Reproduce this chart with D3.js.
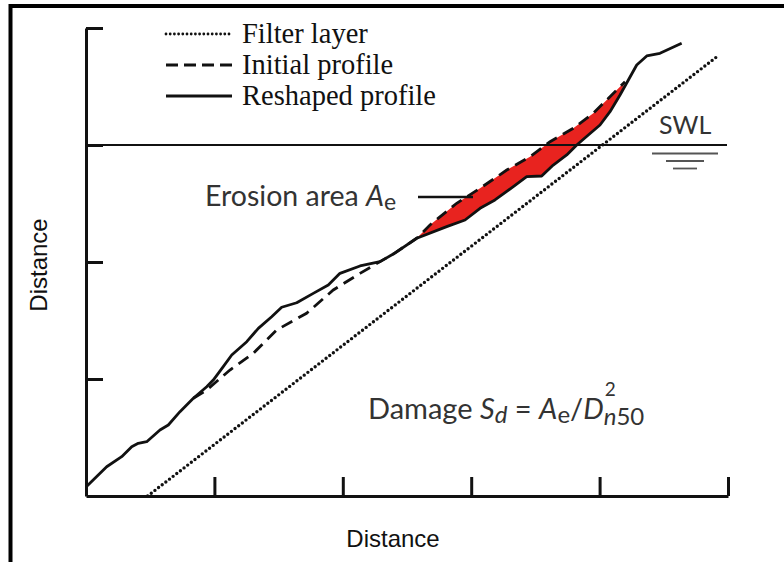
<!DOCTYPE html>
<html>
<head>
<meta charset="utf-8">
<script src="https://cdn.jsdelivr.net/npm/d3@7"></script>
<style>
  body { margin: 0; background: #fff; }
  svg { display: block; }
</style>
</head>
<body>
<svg></svg>
<script>
var w = 784,
    h = 562;

// ticks (distance units)
var xTicks = [1, 2, 3, 4, 5];
var yTicks = [1, 2, 3, 4];
var swlLevel = 3;

// filter layer (straight dotted line)
var filterLayer = [[0.48, 0], [4.92, 3.76]];

// initial profile (dashed), only where it differs from the reshaped one
var initialProfile = [
  [0.836, 0.835], [0.940, 0.906], [1.121, 1.077], [1.303, 1.220], [1.485, 1.419],
  [1.718, 1.562], [1.926, 1.761], [2.134, 1.903], [2.290, 2.003], [2.393, 2.068],
  [2.576, 2.203], [2.679, 2.316], [2.887, 2.502], [3.069, 2.630], [3.277, 2.786],
  [3.458, 2.900], [3.614, 3.028], [3.795, 3.143], [3.951, 3.271], [4.081, 3.413],
  [4.198, 3.541]
];

// reshaped profile (solid)
var reshapedProfile = [
  [0.000, 0.077], [0.161, 0.250], [0.278, 0.336], [0.356, 0.421], [0.407, 0.450],
  [0.473, 0.464], [0.576, 0.564], [0.641, 0.607], [0.732, 0.721], [0.836, 0.835],
  [0.940, 0.934], [0.991, 0.991], [1.069, 1.105], [1.135, 1.205], [1.252, 1.319],
  [1.342, 1.433], [1.446, 1.532], [1.524, 1.613], [1.641, 1.652], [1.770, 1.732],
  [1.887, 1.803], [1.978, 1.903], [2.134, 1.966], [2.290, 2.003], [2.393, 2.068],
  [2.576, 2.203], [2.809, 2.302], [2.952, 2.359], [3.069, 2.459], [3.185, 2.530],
  [3.328, 2.644], [3.432, 2.729], [3.549, 2.735], [3.639, 2.829], [3.744, 2.915],
  [3.822, 3.000], [3.912, 3.085], [4.003, 3.171], [4.081, 3.285], [4.159, 3.427],
  [4.224, 3.556], [4.289, 3.684], [4.367, 3.761], [4.470, 3.784], [4.639, 3.869]
];

var erosionFrom = 2.576,
    erosionTo = 4.2;

var legendItems = ["Filter layer", "Initial profile", "Reshaped profile"];

var vis = d3.select("svg")
    .attr("width", w)
    .attr("height", h);

var x = d3.scaleLinear().domain([0, 5]).range([86, 728]);
var y = d3.scaleLinear().domain([0, 4]).range([496, 28]);

var line = d3.line()
    .x(function(d) { return x(d[0]); })
    .y(function(d) { return y(d[1]); });

// picture frame (left and top only)
vis.append("path")
    .attr("d", "M10.5," + h + "V6H" + w)
    .attr("fill", "none")
    .attr("stroke", "#000")
    .attr("stroke-width", 4);

// erosion area = between initial (top) and reshaped (bottom)
var upper = initialProfile.filter(function(d) { return d[0] >= erosionFrom && d[0] <= erosionTo; });
var lower = reshapedProfile.filter(function(d) { return d[0] >= erosionFrom && d[0] <= erosionTo; }).reverse();
vis.append("path")
    .attr("d", line(upper.concat(lower)) + "Z")
    .attr("fill", "#e8231f")
    .attr("stroke", "none");

// SWL line
vis.append("line")
    .attr("x1", x(0)).attr("x2", 727)
    .attr("y1", y(swlLevel)).attr("y2", y(swlLevel))
    .attr("stroke", "#111")
    .attr("stroke-width", 2.2);

// water level symbol
var swlMarks = [[652, 718, 8.5], [666, 704, 16], [673, 697, 23.5]];
vis.selectAll(".swl-mark")
    .data(swlMarks)
    .enter().append("line")
    .attr("class", "swl-mark")
    .attr("x1", function(d) { return d[0]; })
    .attr("x2", function(d) { return d[1]; })
    .attr("y1", function(d) { return y(swlLevel) + d[2]; })
    .attr("y2", function(d) { return y(swlLevel) + d[2]; })
    .attr("stroke", "#555")
    .attr("stroke-width", 1.8);

vis.append("text")
    .attr("x", 659).attr("y", 134)
    .attr("font-family", "Lato, sans-serif")
    .attr("font-size", 25)
    .attr("fill", "#333")
    .text("SWL");

// profiles
vis.append("path")
    .attr("d", line(filterLayer))
    .attr("fill", "none")
    .attr("stroke", "#111")
    .attr("stroke-width", 3.4)
    .attr("stroke-linecap", "round")
    .attr("stroke-dasharray", "0,4.6");

vis.append("path")
    .attr("d", line(initialProfile))
    .attr("fill", "none")
    .attr("stroke", "#111")
    .attr("stroke-width", 2.8)
    .attr("stroke-dasharray", "12,7");

vis.append("path")
    .attr("d", line(reshapedProfile))
    .attr("fill", "none")
    .attr("stroke", "#111")
    .attr("stroke-width", 2.8)
    .attr("stroke-linejoin", "round");

// axes
var xAxis = vis.append("g")
    .attr("transform", "translate(0," + y(0) + ")")
    .call(d3.axisTop(x).tickValues(xTicks).tickSize(19).tickSizeOuter(0).tickFormat(""));
var yAxis = vis.append("g")
    .attr("transform", "translate(" + x(0) + ",0)")
    .call(d3.axisRight(y).tickValues(yTicks).tickSize(17).tickSizeOuter(0).tickFormat(""));
vis.selectAll(".domain, .tick line")
    .attr("stroke", "#111")
    .attr("stroke-width", 3);

vis.append("text")
    .attr("x", 393).attr("y", 547)
    .attr("text-anchor", "middle")
    .attr("font-family", "Liberation Sans, Arial, sans-serif")
    .attr("font-size", 24)
    .attr("fill", "#111")
    .text("Distance");

vis.append("text")
    .attr("transform", "translate(47,265) rotate(-90)")
    .attr("text-anchor", "middle")
    .attr("font-family", "Liberation Sans, Arial, sans-serif")
    .attr("font-size", 24)
    .attr("fill", "#111")
    .text("Distance");

// legend
var legend = vis.selectAll(".legend")
    .data(legendItems)
    .enter().append("g")
    .attr("class", "legend")
    .attr("transform", function(d, i) { return "translate(0," + (34 + i * 31) + ")"; });

legend.append("line")
    .attr("x1", 166).attr("x2", 232)
    .attr("stroke", "#111")
    .attr("stroke-width", function(d, i) { return i === 0 ? 2.8 : 3; })
    .attr("stroke-linecap", function(d, i) { return i === 0 ? "round" : "butt"; })
    .attr("stroke-dasharray", function(d, i) { return i === 0 ? "0,4.2" : i === 1 ? "12,6" : null; });

legend.append("text")
    .attr("x", 242).attr("y", 9)
    .attr("font-family", "Liberation Serif, Times New Roman, serif")
    .attr("font-size", 28.5)
    .attr("fill", "#111")
    .text(function(d) { return d; });

// erosion label
var erosion = vis.append("text")
    .attr("x", 205).attr("y", 206)
    .attr("font-family", "Lato, sans-serif")
    .attr("font-size", 28.5)
    .attr("fill", "#333");
erosion.append("tspan").text("Erosion area ");
erosion.append("tspan").attr("font-style", "italic").text("A");
erosion.append("tspan").attr("dy", 4).attr("font-size", 23).text("e");

vis.append("line")
    .attr("x1", 418).attr("x2", 473)
    .attr("y1", 197).attr("y2", 197)
    .attr("stroke", "#111")
    .attr("stroke-width", 2.5);

// damage formula (one text element, sub/superscript stacked after D)
var damage = vis.append("text")
    .attr("x", 368).attr("y", 419)
    .attr("font-family", "Lato, sans-serif")
    .attr("font-size", 29)
    .attr("fill", "#333");
damage.append("tspan").text("Damage ");
damage.append("tspan").attr("font-style", "italic").text("S");
damage.append("tspan").attr("font-style", "italic").attr("font-size", 24).attr("dy", 4).text("d");
damage.append("tspan").attr("dy", -4).text(" = ");
damage.append("tspan").attr("font-style", "italic").text("A");
damage.append("tspan").attr("font-size", 24).attr("dy", 4).text("e");
damage.append("tspan").attr("dy", -4).text("/");
damage.append("tspan").attr("font-style", "italic").text("D");
var scriptX = 368 + damage.node().getComputedTextLength() + 1;
damage.append("tspan").attr("x", scriptX).attr("dy", -23).attr("font-size", 19).text("2");
damage.append("tspan").attr("x", scriptX - 1).attr("dy", 29).attr("font-style", "italic").attr("font-size", 24).text("n");
damage.append("tspan").attr("font-size", 24).text("50");
</script>
</body>
</html>
